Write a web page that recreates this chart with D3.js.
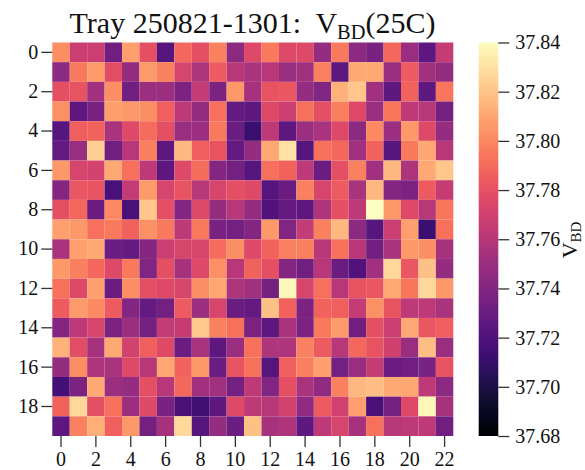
<!DOCTYPE html>
<html>
<head>
<meta charset="utf-8">
<script src="https://cdn.jsdelivr.net/npm/d3@7"></script>
<style>
  body { margin: 0; background: #fff; }
  svg { display: block; }
  text { font-family: "Liberation Serif", serif; fill: #111; }
  .tick line { stroke: #333; stroke-width: 1.3; }
</style>
</head>
<body>
<div id="chart"></div>
<script>
// breakdown voltage per channel, in mV
const row0 = [37802,37768,37768,37733,37808,37779,37722,37789,37779,37798,37744,37776,37795,37776,37776,37747,37795,37744,37736,37789,37749,37725,37766];
const row1 = [37744,37795,37806,37778,37747,37806,37798,37773,37757,37784,37760,37755,37760,37749,37752,37798,37725,37811,37811,37749,37784,37752,37747];
const row2 = [37779,37781,37752,37802,37733,37750,37750,37738,37765,37738,37805,37754,37781,37782,37747,37739,37814,37821,37752,37726,37787,37726,37794];
const row3 = [37803,37725,37736,37808,37805,37802,37786,37763,37747,37792,37728,37726,37776,37768,37792,37779,37797,37776,37749,37794,37763,37760,37734];
const row4 = [37723,37786,37787,37755,37776,37790,37779,37749,37750,37795,37731,37712,37763,37725,37750,37755,37776,37744,37800,37750,37805,37776,37747];
const row5 = [37728,37749,37824,37733,37760,37797,37725,37816,37786,37781,37728,37747,37811,37830,37722,37792,37789,37752,37787,37723,37795,37810,37760];
const row6 = [37805,37773,37771,37811,37792,37763,37725,37776,37790,37741,37734,37723,37792,37787,37763,37730,37779,37798,37752,37816,37757,37811,37821];
const row7 = [37741,37782,37781,37718,37765,37806,37773,37781,37760,37773,37779,37776,37722,37730,37798,37773,37784,37755,37816,37741,37738,37784,37766];
const row8 = [37779,37789,37730,37800,37718,37821,37779,37741,37776,37747,37760,37747,37720,37728,37725,37757,37779,37763,37840,37805,37776,37760,37794];
const row9 = [37808,37805,37792,37795,37787,37803,37795,37763,37795,37736,37734,37741,37805,37739,37765,37798,37816,37744,37723,37768,37808,37712,37792];
const row10 = [37755,37808,37811,37731,37728,37741,37768,37773,37773,37790,37802,37776,37787,37798,37797,37760,37792,37760,37733,37755,37805,37802,37754];
const row11 = [37805,37797,37789,37776,37795,37739,37779,37754,37776,37803,37760,37787,37779,37741,37733,37760,37730,37720,37752,37827,37782,37819,37747];
const row12 = [37792,37776,37808,37730,37802,37779,37776,37773,37802,37810,37757,37752,37734,37838,37773,37792,37760,37781,37782,37811,37794,37827,37805];
const row13 = [37784,37806,37800,37784,37741,37728,37734,37784,37750,37773,37730,37728,37819,37787,37738,37787,37786,37765,37803,37781,37763,37763,37755];
const row14 = [37741,37763,37773,37738,37750,37734,37765,37766,37822,37798,37792,37738,37725,37755,37738,37795,37806,37733,37779,37768,37811,37782,37786];
const row15 = [37814,37778,37754,37811,37771,37786,37776,37730,37755,37725,37749,37792,37757,37757,37798,37784,37760,37789,37781,37770,37749,37818,37749];
const row16 = [37747,37802,37757,37755,37776,37760,37810,37787,37805,37731,37781,37792,37722,37786,37797,37808,37734,37749,37766,37730,37733,37736,37781];
const row17 = [37715,37738,37811,37750,37747,37779,37760,37789,37752,37752,37734,37763,37739,37779,37755,37746,37798,37816,37818,37811,37810,37763,37744];
const row18 = [37787,37827,37779,37792,37750,37776,37736,37717,37714,37726,37776,37763,37760,37771,37746,37784,37771,37808,37718,37734,37776,37837,37754];
const row19 = [37725,37798,37813,37786,37805,37734,37754,37827,37723,37747,37731,37819,37754,37757,37726,37763,37773,37754,37792,37760,37763,37763,37733];

const rows = [row0, row1, row2, row3, row4, row5, row6, row7, row8, row9, row10, row11, row12, row13, row14, row15, row16, row17, row18, row19];
const xTicks = [0, 2, 4, 6, 8, 10, 12, 14, 16, 18, 20, 22];
const yTicks = [0, 2, 4, 6, 8, 10, 12, 14, 16, 18];
const barTicks = [37680, 37700, 37720, 37740, 37760, 37780, 37800, 37820, 37840];

const width = 585;
const height = 470;
const plot = { left: 52.3, right: 453.3, top: 42.5, bottom: 436 };
const bar = { left: 478.7, right: 498.3 };

const svg = d3.select('#chart')
    .append('svg')
    .attr('width', width)
    .attr('height', height);

const xScale = d3.scaleBand()
    .domain(d3.range(row0.length))
    .range([plot.left, plot.right]);

const yScale = d3.scaleBand()
    .domain(d3.range(rows.length))
    .range([plot.top, plot.bottom]);

const colorScale = d3.scaleSequential(d3.interpolateMagma)
    .domain([37680, 37840]);

const cells = rows.flatMap((row, r) => row.map((value, c) => ({ r, c, value })));

svg.append('g')
    .selectAll('rect')
    .data(cells)
    .join('rect')
    .attr('x', (d) => xScale(d.c))
    .attr('y', (d) => yScale(d.r))
    .attr('width', xScale.bandwidth())
    .attr('height', yScale.bandwidth())
    .attr('fill', (d) => colorScale(d.value));

const xAxis = d3.axisBottom(xScale).tickValues(xTicks).tickSize(11).tickPadding(5);
const yAxis = d3.axisLeft(yScale).tickValues(yTicks).tickSize(11).tickPadding(3);

svg.append('g')
    .attr('transform', `translate(0, ${plot.bottom})`)
    .call(xAxis)
    .call((g) => g.select('.domain').remove())
    .selectAll('text')
    .attr('font-size', 20);

svg.append('g')
    .attr('transform', `translate(${plot.left}, 0)`)
    .call(yAxis)
    .call((g) => g.select('.domain').remove())
    .selectAll('text')
    .attr('font-size', 20);

// colorbar
const barScale = d3.scaleLinear()
    .domain([37680, 37840])
    .range([plot.bottom, plot.top]);

const gradient = svg.append('defs')
    .append('linearGradient')
    .attr('id', 'magma-bar')
    .attr('x1', 0).attr('x2', 0)
    .attr('y1', 1).attr('y2', 0);

gradient.selectAll('stop')
    .data(d3.range(0, 1.001, 0.02))
    .join('stop')
    .attr('offset', (d) => d)
    .attr('stop-color', (d) => d3.interpolateMagma(d));

svg.append('rect')
    .attr('x', bar.left)
    .attr('y', plot.top)
    .attr('width', bar.right - bar.left)
    .attr('height', plot.bottom - plot.top)
    .attr('fill', 'url(#magma-bar)');

const barAxis = d3.axisRight(barScale)
    .tickValues(barTicks)
    .tickFormat((d) => d3.format('.2f')(d / 1000))
    .tickSize(11)
    .tickPadding(6);

svg.append('g')
    .attr('transform', `translate(${bar.right}, 0)`)
    .call(barAxis)
    .call((g) => g.select('.domain').remove())
    .selectAll('text')
    .attr('font-size', 20);

// text with a subscript part
function subText(sel, before, sub, after, size) {
    sel.attr('font-size', size).attr('text-anchor', 'middle');
    sel.append('tspan').text(before);
    sel.append('tspan').attr('font-size', size * 0.68).attr('dy', size * 0.2).text(sub);
    sel.append('tspan').attr('dy', -size * 0.2).text(after);
}

svg.append('text')
    .attr('x', 252.5)
    .attr('y', 33)
    .style('white-space', 'pre')
    .call(subText, 'Tray 250821-1301:  V', 'BD', '(25C)', 30);

svg.append('text')
    .attr('transform', 'translate(577, 240) rotate(-90)')
    .call(subText, 'V', 'BD', '', 22);
</script>
</body>
</html>
